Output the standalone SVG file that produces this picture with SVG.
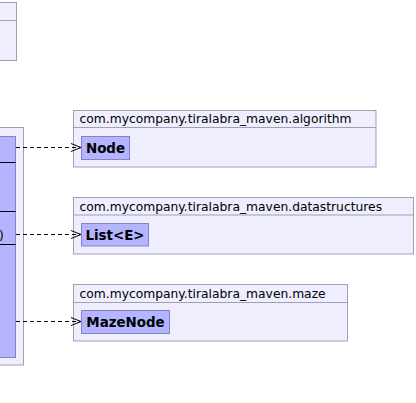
<svg xmlns="http://www.w3.org/2000/svg" width="416" height="403" viewBox="0 0 416 403">
<style>
.pkg{fill:#EEEEFF;stroke:#A0A0B4;stroke-width:1}
.cls{fill:#B4B4FF;stroke:#8484C0;stroke-width:1}
.div{stroke:#A0A0B4;stroke-width:1}
.cdiv{stroke:#000000;stroke-width:1}
.ptxt{font-family:"DejaVu Sans",sans-serif;font-size:12.3px;fill:#000}
.ctxt{font-family:"DejaVu Sans",sans-serif;font-size:13.4px;font-weight:bold;fill:#000;text-anchor:middle}
.dep{fill:none;stroke:#000;stroke-width:1;stroke-dasharray:4,3}
.head{fill:none;stroke:#000;stroke-width:1}
</style>
<rect width="416" height="403" fill="#FFFFFF"/>
<g id="top-left-box">
<rect class="pkg" x="-10" y="2.5" width="26.5" height="58"/>
<line class="div" x1="-10" y1="20.5" x2="16.5" y2="20.5"/>
</g>
<g id="left-package">
<rect class="pkg" x="-10" y="127.5" width="33.5" height="237.5"/>
<rect class="cls" x="-10" y="136.5" width="25.5" height="221"/>
<line class="cdiv" x1="-10" y1="162.5" x2="15.5" y2="162.5"/>
<line class="cdiv" x1="-10" y1="211.5" x2="15.5" y2="211.5"/>
<line class="cdiv" x1="-10" y1="244.5" x2="15.5" y2="244.5"/>
<text class="ptxt" x="-1" y="239">)</text>
</g>
<g id="pkg-algorithm">
<rect class="pkg" x="73.5" y="110.5" width="302.5" height="56.5"/>
<line class="div" x1="73.5" y1="127.5" x2="376" y2="127.5"/>
<text class="ptxt" x="79.5" y="123">com.mycompany.tiralabra_maven.algorithm</text>
<g id="node-Node">
<rect class="cls" x="81.5" y="136.5" width="48" height="23"/>
<text class="ctxt" x="105.5" y="152.7">Node</text>
</g>
</g>
<g id="pkg-datastructures">
<rect class="pkg" x="73.5" y="197.5" width="340" height="56.5"/>
<line class="div" x1="73.5" y1="215" x2="413.5" y2="215"/>
<text class="ptxt" x="79.5" y="210.5">com.mycompany.tiralabra_maven.datastructures</text>
<g id="node-List">
<rect class="cls" x="81.5" y="223.5" width="67" height="22.5"/>
<text class="ctxt" x="115" y="239.7">List&lt;E&gt;</text>
</g>
</g>
<g id="pkg-maze">
<rect class="pkg" x="73.5" y="284.5" width="274" height="56.5"/>
<line class="div" x1="73.5" y1="302.5" x2="347.5" y2="302.5"/>
<text class="ptxt" x="79.5" y="297.5">com.mycompany.tiralabra_maven.maze</text>
<g id="node-MazeNode">
<rect class="cls" x="81.5" y="310.5" width="88" height="23"/>
<text class="ctxt" x="125.5" y="326.7">MazeNode</text>
</g>
</g>
<g id="connectors">
<line class="dep" x1="16" y1="147.5" x2="80" y2="147.5"/>
<polyline class="head" points="71,143.5 81,147.5 71,151.5"/>
<line class="dep" x1="16" y1="234.5" x2="80" y2="234.5"/>
<polyline class="head" points="71,230.5 81,234.5 71,238.5"/>
<line class="dep" x1="16" y1="321.5" x2="80" y2="321.5"/>
<polyline class="head" points="71,317.5 81,321.5 71,325.5"/>
</g>
</svg>
